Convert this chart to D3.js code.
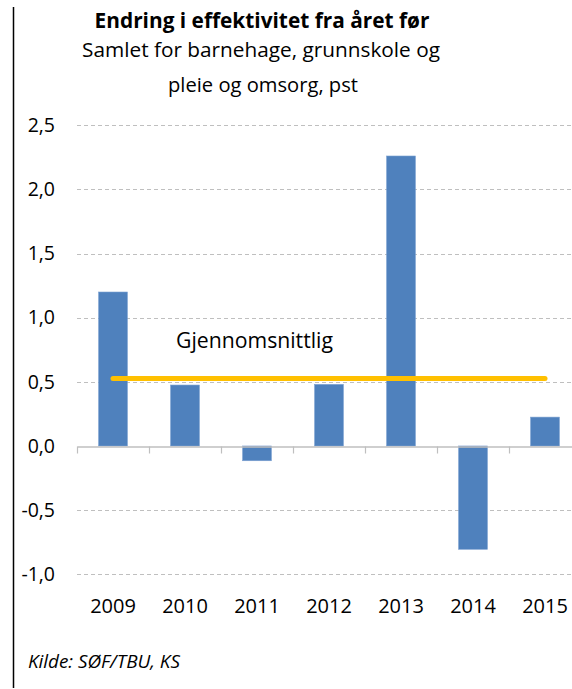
<!DOCTYPE html>
<html>
<head>
<meta charset="utf-8">
<script src="https://cdn.jsdelivr.net/npm/d3@7"></script>
<style>
  html, body { margin: 0; padding: 0; background: #fff; }
  text { font-family: "Open Sans", Lato, sans-serif; fill: #000; }
</style>
</head>
<body>
<div id="chart"></div>
<script>
const years = ['2009', '2010', '2011', '2012', '2013', '2014', '2015'];
const values = [1.2, 0.475, -0.115, 0.48, 2.26, -0.805, 0.225];
const averageValue = 0.525;
const yTicks = [-1.0, -0.5, 0.0, 0.5, 1.0, 1.5, 2.0, 2.5];

const width = 572;
const height = 689;
const barColor = '#4F81BD';
const avgColor = '#FFC000';
const gridColor = '#BFBFBF';

const svg = d3.select('#chart')
  .append('svg')
  .attr('width', width)
  .attr('height', height);

svg.append('rect')
  .attr('width', width)
  .attr('height', height)
  .attr('fill', '#fff');

// shrink/grow a text's font size until it spans the wanted width
function fitWidth(sel, target) {
  const node = sel.node();
  const size = parseFloat(sel.style('font-size'));
  const w = node.getComputedTextLength();
  sel.style('font-size', (size * target / w).toFixed(2) + 'px');
  return sel;
}

// left frame line
svg.append('line')
  .attr('x1', 13.5).attr('x2', 13.5)
  .attr('y1', 7).attr('y2', 688)
  .attr('stroke', '#000')
  .attr('stroke-width', 1.5);

const xScale = d3.scaleBand()
  .domain(years)
  .range([77, 581])
  .paddingInner(0.6)
  .paddingOuter(0.3);

const yScale = d3.scaleLinear()
  .domain([-1, 2.5])
  .range([574.3, 125.2]);

const fmt = v => d3.format('.1f')(v).replace('.', ',').replace('−', '-');

// titles
fitWidth(svg.append('text')
  .attr('x', 262).attr('y', 28)
  .attr('text-anchor', 'middle')
  .style('font-weight', 'bold')
  .style('font-size', '19px')
  .text('Endring i effektivitet fra året før'), 335);

fitWidth(svg.append('text')
  .attr('x', 261).attr('y', 57)
  .attr('text-anchor', 'middle')
  .style('font-size', '19px')
  .text('Samlet for barnehage, grunnskole og'), 358);

fitWidth(svg.append('text')
  .attr('x', 263).attr('y', 92)
  .attr('text-anchor', 'middle')
  .style('font-size', '19px')
  .text('pleie og omsorg, pst'), 190);

// gridlines
const grid = svg.append('g').attr('class', 'grid');
yTicks.filter(t => t !== 0).forEach(t => {
  grid.append('line')
    .attr('x1', 77).attr('x2', width)
    .attr('y1', Math.round(yScale(t)) + 0.5)
    .attr('y2', Math.round(yScale(t)) + 0.5)
    .attr('stroke', gridColor)
    .attr('stroke-width', 1)
    .attr('stroke-dasharray', '4,3');
});

// y tick labels
const yAxis = svg.append('g')
  .attr('transform', 'translate(77,0)')
  .call(d3.axisLeft(yScale).tickValues(yTicks).tickFormat(fmt).tickSize(0).tickPadding(22));
yAxis.select('.domain').remove();
yAxis.selectAll('text')
  .style('font-family', '"Open Sans", sans-serif')
  .style('font-size', '19.5px')
  .attr('fill', '#000');

// bars
svg.append('g')
  .selectAll('rect')
  .data(values)
  .join('rect')
  .attr('x', (d, i) => xScale(years[i]))
  .attr('y', d => yScale(Math.max(0, d)))
  .attr('width', xScale.bandwidth())
  .attr('height', d => Math.abs(yScale(d) - yScale(0)))
  .attr('fill', barColor)
  .attr('stroke', '#7A9FD0')
  .attr('stroke-width', 0.6);

// x axis at zero
const xAxis = svg.append('g')
  .attr('transform', `translate(0,${Math.round(yScale(0)) + 0.5})`)
  .call(d3.axisBottom(xScale).tickSize(0).tickFormat(''));
xAxis.select('.domain')
  .attr('stroke', gridColor)
  .attr('stroke-width', 1.5);
years.forEach(y => {
  const x = Math.round(xScale(y) - xScale.step() * xScale.paddingInner() / 2) + 0.5;
  xAxis.append('line')
    .attr('x1', x).attr('x2', x)
    .attr('y1', 0).attr('y2', 7)
    .attr('stroke', gridColor)
    .attr('stroke-width', 1.2);
});

// x labels
svg.append('g')
  .selectAll('text')
  .data(years)
  .join('text')
  .attr('x', d => xScale(d) + xScale.bandwidth() / 2)
  .attr('y', 613)
  .attr('text-anchor', 'middle')
  .style('font-size', '20px')
  .text(d => d);

// average line
svg.append('line')
  .attr('x1', xScale(years[0]) + xScale.bandwidth() / 2)
  .attr('x2', xScale(years[years.length - 1]) + xScale.bandwidth() / 2)
  .attr('y1', yScale(averageValue))
  .attr('y2', yScale(averageValue))
  .attr('stroke', avgColor)
  .attr('stroke-width', 5)
  .attr('stroke-linecap', 'round');

fitWidth(svg.append('text')
  .attr('x', 176).attr('y', 348)
  .style('font-size', '20px')
  .text('Gjennomsnittlig'), 157);

// source
fitWidth(svg.append('text')
  .attr('x', 28).attr('y', 668)
  .style('font-size', '16px')
  .style('font-style', 'italic')
  .attr('fill', '#222')
  .text('Kilde: SØF/TBU, KS'), 152);
</script>
</body>
</html>
